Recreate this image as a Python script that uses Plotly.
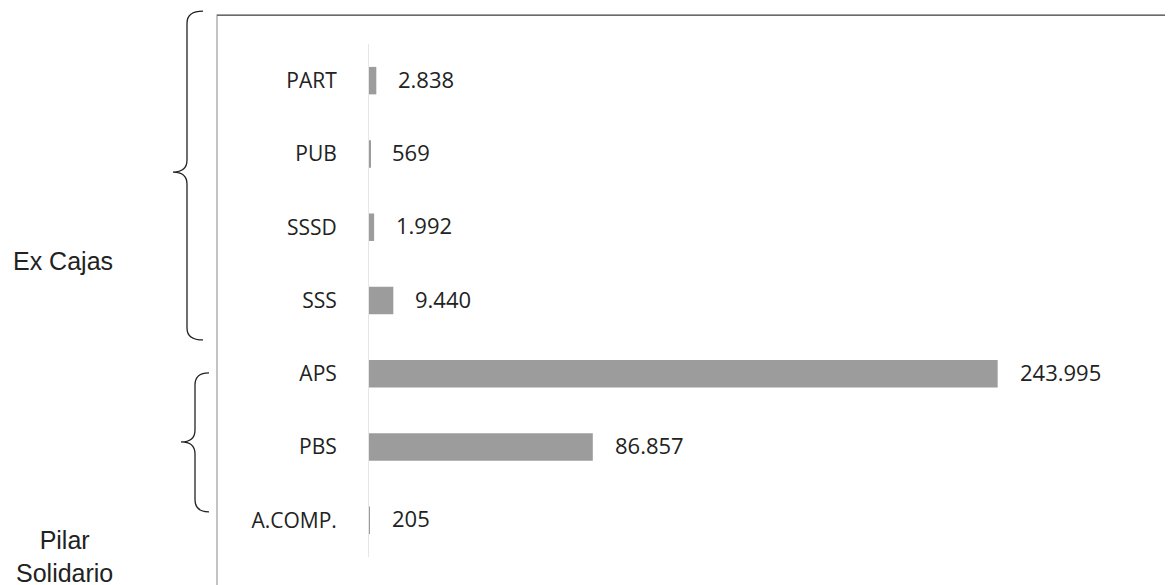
import plotly.graph_objects as go

categories = ["PART", "PUB", "SSSD", "SSS", "APS", "PBS", "A.COMP."]
values = [2838, 569, 1992, 9440, 243995, 86857, 205]
group_labels = ["Ex Cajas", "Pilar<br>Solidario"]

OFF = 8  # page body margin
W, H = 1173 - OFF, 585 - OFF
# reference-pixel geometry
L_ref, R_ref = 369, 1142
T_ref, B_ref = 43.8, 557.2
XMAX = 300000

L, R = L_ref - OFF, R_ref - OFF
T, B = T_ref - OFF, B_ref - OFF

def px_x(p):
    return (p - OFF - L) / (R - L)

def px_y(p):
    return (B - (p - OFF)) / (B - T)

fig = go.Figure()
fig.add_trace(go.Bar(
    y=categories, x=values, orientation="h",
    marker=dict(color="#9c9c9c", line=dict(width=0)),
    width=0.375, hoverinfo="skip",
))

annotations = []
for c, v in zip(categories, values):
    annotations.append(dict(
        x=v, y=c, xref="x", yref="y", text=f"{v:,}".replace(",", "."),
        showarrow=False, xanchor="left", xshift=20, yshift=2,
        font=dict(family="Open Sans, DejaVu Sans", size=22, color="#222"),
    ))

annotations.append(dict(x=px_x(63), y=px_y(261), xref="paper", yref="paper",
                        text=group_labels[0], showarrow=False, xanchor="center",
                        yanchor="middle",
                        font=dict(family="Liberation Sans, Arial", size=25, color="#222")))
annotations.append(dict(x=px_x(64), y=px_y(557), xref="paper", yref="paper",
                        text=group_labels[1], showarrow=False, xanchor="center",
                        yanchor="middle", align="center",
                        font=dict(family="Liberation Sans, Arial", size=25, color="#222")))

def brace(x_end, x_mid, x_tip, y_top, y_mid, y_bot):
    pts = lambda x, y: f"{px_x(x):.5f},{px_y(y):.5f}"
    r = 12
    return (f"M {pts(x_end, y_top)} "
            f"Q {pts(x_mid, y_top)} {pts(x_mid, y_top + r)} "
            f"L {pts(x_mid, y_mid - r)} "
            f"Q {pts(x_mid, y_mid)} {pts(x_tip, y_mid)} "
            f"Q {pts(x_mid, y_mid)} {pts(x_mid, y_mid + r)} "
            f"L {pts(x_mid, y_bot - r)} "
            f"Q {pts(x_mid, y_bot)} {pts(x_end, y_bot)}")

shapes = [
    dict(type="rect", xref="paper", yref="paper",
         x0=px_x(217), x1=px_x(1167), y0=px_y(15), y1=px_y(620),
         line=dict(color="#b0b0b0", width=1.5), fillcolor="rgba(0,0,0,0)"),
    dict(type="line", xref="paper", yref="paper",
         x0=px_x(217), x1=px_x(1167), y0=px_y(15), y1=px_y(15),
         line=dict(color="#6a6a6a", width=1.5)),
    dict(type="path", xref="paper", yref="paper",
         path=brace(203, 187, 173, 11, 172, 340), line=dict(color="#222", width=1.3)),
    dict(type="path", xref="paper", yref="paper",
         path=brace(209, 195, 181, 373, 442, 512), line=dict(color="#222", width=1.3)),
]

fig.update_layout(
    width=W, height=H,
    margin=dict(l=L, r=W - R, t=T, b=H - B, pad=0),
    paper_bgcolor="white", plot_bgcolor="white",
    showlegend=False,
    annotations=annotations, shapes=shapes,
    xaxis=dict(range=[0, XMAX], showgrid=False, zeroline=False,
               showticklabels=False, showline=False, ticks=""),
    yaxis=dict(autorange="reversed", showgrid=False, zeroline=False,
               showline=True, linecolor="#e6e6e6", linewidth=1,
               ticks="", ticklabelstandoff=27,
               tickfont=dict(family="Open Sans, DejaVu Sans", size=21, color="#222")),
)

fig.write_html("out.html")
